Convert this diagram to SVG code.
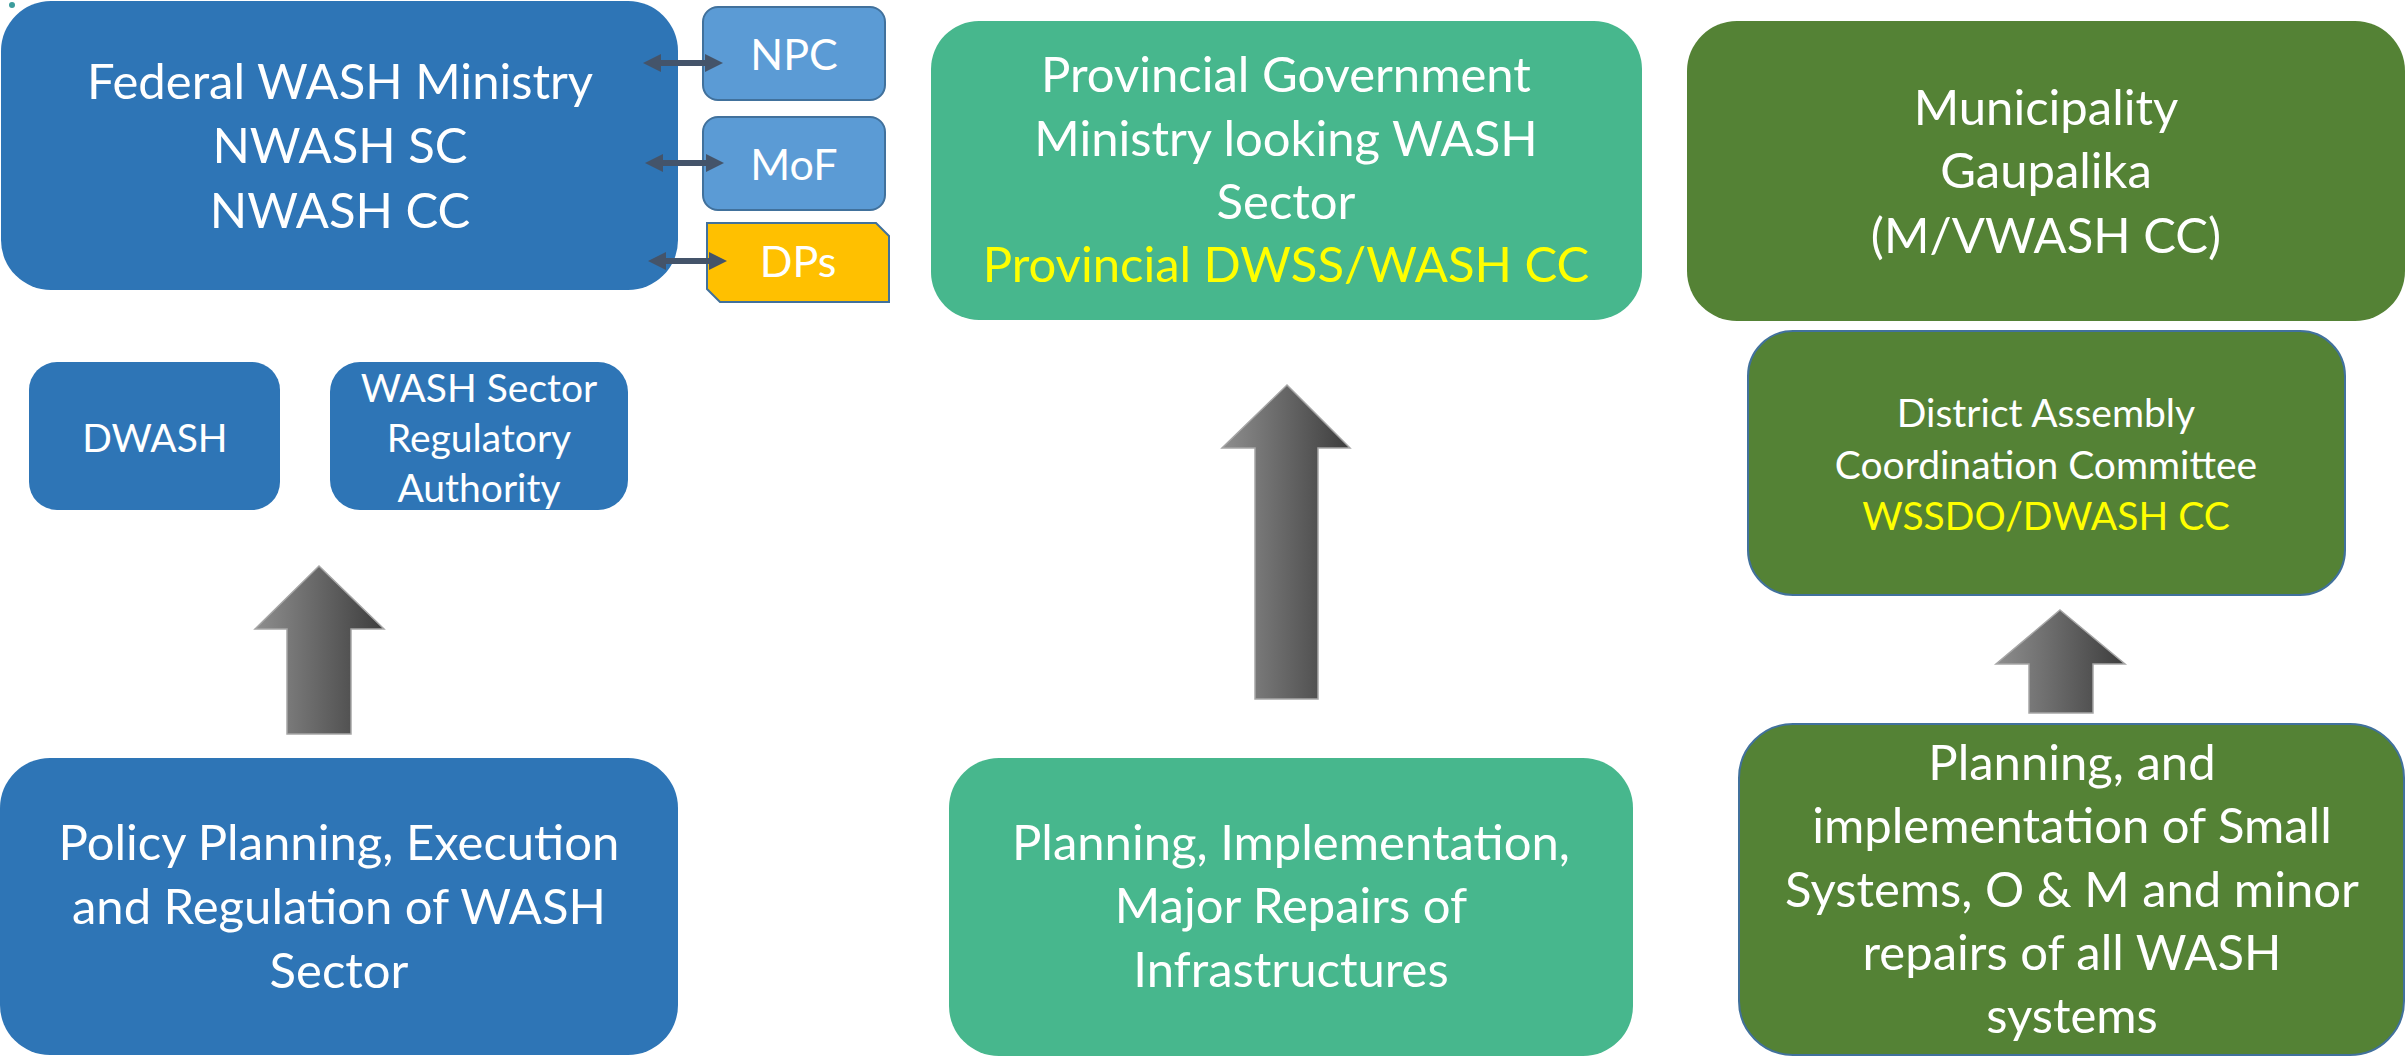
<svg xmlns="http://www.w3.org/2000/svg" width="2407" height="1056" viewBox="0 0 2407 1056">
  <style>
    text { font-family: Lato, "Open Sans", "Liberation Sans", sans-serif; fill: #ffffff; text-anchor: middle; }
    .big { font-size: 49px; }
    .mid { font-size: 39px; }
    .sm { font-size: 43px; }
    .yel { fill: #ffff00; }
    .fed { fill: #2e75b6; }
    .lite { fill: #5b9bd5; stroke: #41719c; stroke-width: 2; }
    .teal { fill: #47b78d; }
    .grn { fill: #548235; }
    .grnb { fill: #548235; stroke: #41719c; stroke-width: 2; }
    .dbl { stroke: #44546a; stroke-width: 6; fill: none; marker-start: url(#hd); marker-end: url(#hd); }
    .blk { fill: url(#gr); stroke: #a6a6a6; stroke-width: 1.5; }
  </style>
  <defs>
    <marker id="hd" viewBox="0 0 18 18" markerWidth="18" markerHeight="18" markerUnits="userSpaceOnUse" refX="4" refY="9" orient="auto-start-reverse">
      <path d="M0,0 L18,9 L0,18 z" fill="#44546a"/>
    </marker>
    <linearGradient id="gr" x1="0" y1="0" x2="1" y2="0">
      <stop offset="0" stop-color="#8e8e8e"/>
      <stop offset="1" stop-color="#3d3d3d"/>
    </linearGradient>
  </defs>

  <!-- small handle mark -->
  <circle cx="12" cy="5" r="3" fill="#3c9c9c"/>

  <!-- federal column -->
  <g id="federal">
    <rect class="fed" x="1" y="1" width="677" height="289" rx="50"/>
    <text class="big" x="340" y="99">Federal WASH Ministry</text>
    <text class="big" x="340" y="163">NWASH SC</text>
    <text class="big" x="340" y="228">NWASH CC</text>
  </g>
  <g id="npc">
    <rect class="lite" x="703" y="7" width="182" height="93" rx="15"/>
    <text class="sm" x="794" y="70">NPC</text>
  </g>
  <g id="mof">
    <rect class="lite" x="703" y="117" width="182" height="93" rx="15"/>
    <text class="sm" x="794" y="180">MoF</text>
  </g>
  <g id="dps">
    <path d="M707,223 L876,223 L889,236 L889,302 L720,302 L707,289 z" fill="#ffc000" stroke="#41719c" stroke-width="2"/>
    <text class="sm" x="798" y="277">DPs</text>
  </g>
  <g id="dwash">
    <rect class="fed" x="29" y="362" width="251" height="148" rx="28"/>
    <text class="mid" x="155" y="452">DWASH</text>
  </g>
  <g id="regulator">
    <rect class="fed" x="330" y="362" width="298" height="148" rx="30"/>
    <text class="mid" x="479" y="402">WASH Sector</text>
    <text class="mid" x="479" y="452">Regulatory</text>
    <text class="mid" x="479" y="502">Authority</text>
  </g>
  <g id="policy">
    <rect class="fed" x="0" y="758" width="678" height="297" rx="50"/>
    <text class="big" x="339" y="860">Policy Planning, Execution</text>
    <text class="big" x="339" y="924">and Regulation of WASH</text>
    <text class="big" x="339" y="988">Sector</text>
  </g>

  <!-- provincial column -->
  <g id="provincial">
    <rect class="teal" x="931" y="21" width="711" height="299" rx="48"/>
    <text class="big" x="1286" y="92">Provincial Government</text>
    <text class="big" x="1286" y="156">Ministry looking WASH</text>
    <text class="big" x="1286" y="219">Sector</text>
    <text class="big yel" x="1286" y="282">Provincial DWSS/WASH CC</text>
  </g>
  <g id="planning">
    <rect class="teal" x="949" y="758" width="684" height="298" rx="50"/>
    <text class="big" x="1291" y="860">Planning, Implementation,</text>
    <text class="big" x="1291" y="923">Major Repairs of</text>
    <text class="big" x="1291" y="987">Infrastructures</text>
  </g>

  <!-- local column -->
  <g id="municipality">
    <rect class="grn" x="1687" y="21" width="718" height="300" rx="50"/>
    <text class="big" x="2046" y="125">Municipality</text>
    <text class="big" x="2046" y="188">Gaupalika</text>
    <text class="big" x="2046" y="253">(M/VWASH CC)</text>
  </g>
  <g id="district">
    <rect class="grnb" x="1748" y="331" width="597" height="264" rx="45"/>
    <text class="mid" x="2046" y="427">District Assembly</text>
    <text class="mid" x="2046" y="479">Coordination Committee</text>
    <text class="mid yel" x="2046" y="530">WSSDO/DWASH CC</text>
  </g>
  <g id="small-systems">
    <rect class="grnb" x="1739" y="724" width="665" height="331" rx="54"/>
    <text class="big" x="2072" y="780">Planning, and</text>
    <text class="big" x="2072" y="843">implementation of Small</text>
    <text class="big" x="2072" y="907">Systems, O &amp; M and minor</text>
    <text class="big" x="2072" y="970">repairs of all WASH</text>
    <text class="big" x="2072" y="1033">systems</text>
  </g>

  <!-- connectors -->
  <g id="connectors">
    <line class="dbl" x1="657" y1="63" x2="709" y2="63"/>
    <line class="dbl" x1="659" y1="163" x2="710" y2="163"/>
    <line class="dbl" x1="662" y1="261" x2="713" y2="261"/>
    <path class="blk" d="M319,566 L384,629 L351,629 L351,734 L287,734 L287,629 L255,629 z"/>
    <path class="blk" d="M1287,385 L1350,448 L1318,448 L1318,699 L1255,699 L1255,448 L1222,448 z"/>
    <path class="blk" d="M2060,610 L2125,664 L2093,664 L2093,713 L2029,713 L2029,664 L1996,664 z"/>
  </g>
</svg>
